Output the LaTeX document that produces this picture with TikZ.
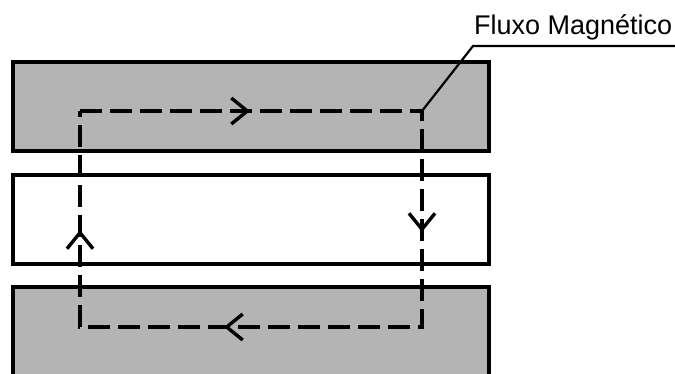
\documentclass[tikz,border=0pt]{standalone}
\usepackage{fontspec}
\setmainfont{Liberation Sans}
\usepackage{tikz}
\usetikzlibrary{arrows.meta,decorations.markings,positioning}
\definecolor{coregray}{RGB}{180,180,180}
\tikzset{corenode/.style={shape=rectangle, draw=black, fill=coregray, line width=3.4pt, minimum width=476pt, minimum height=89pt, inner sep=0pt}}
\tikzset{gapnode/.style={shape=rectangle, draw=black, fill=white, line width=3.4pt, minimum width=476pt, minimum height=89pt, inner sep=0pt}}
\tikzset{fluxline/.style={line width=3.4pt, dash pattern=on 22pt off 8pt, line join=miter}}
\tikzset{fluxtip/.style={decoration={markings,
  mark=at position 170pt with {\arrow{Straight Barb[length=16pt,width=26pt]}},
  mark=at position 463pt with {\arrow{Straight Barb[length=16pt,width=26pt]}},
  mark=at position 756pt with {\arrow{Straight Barb[length=16pt,width=26pt]}},
  mark=at position 997pt with {\arrow{Straight Barb[length=16pt,width=26pt]}}}, postaction={decorate}}}
\tikzset{leadline/.style={line width=2.2pt}}
\begin{document}
\begin{tikzpicture}[x=1pt,y=-1pt]
\useasboundingbox (0,0) rectangle (675,373);
\clip (0,0) rectangle (675,373);
%Nodes
\node[corenode] (upper)  at (251,106.5) {};
\node[gapnode]  (gap)    at (251,219.5) {};
\node[corenode, minimum height=103pt] (lower) at (251,338.5) {};
\node[anchor=base west, inner sep=0pt, font=\fontsize{27}{32}\selectfont] (label) at (474,34) {Fluxo Magnético};
\coordinate (fa) at (80,111);
\coordinate (fb) at (422,111);
\coordinate (fc) at (422,327);
\coordinate (fd) at (80,327);
\coordinate (bend) at (473,46);
\coordinate (leadend) at (676,46);
%Lines
\draw[fluxline, fluxtip] (fa) -- (fb) -- (fc) -- (fd) -- cycle;
\draw[leadline] (fb) -- (bend) -- (leadend);
\end{tikzpicture}
\end{document}
